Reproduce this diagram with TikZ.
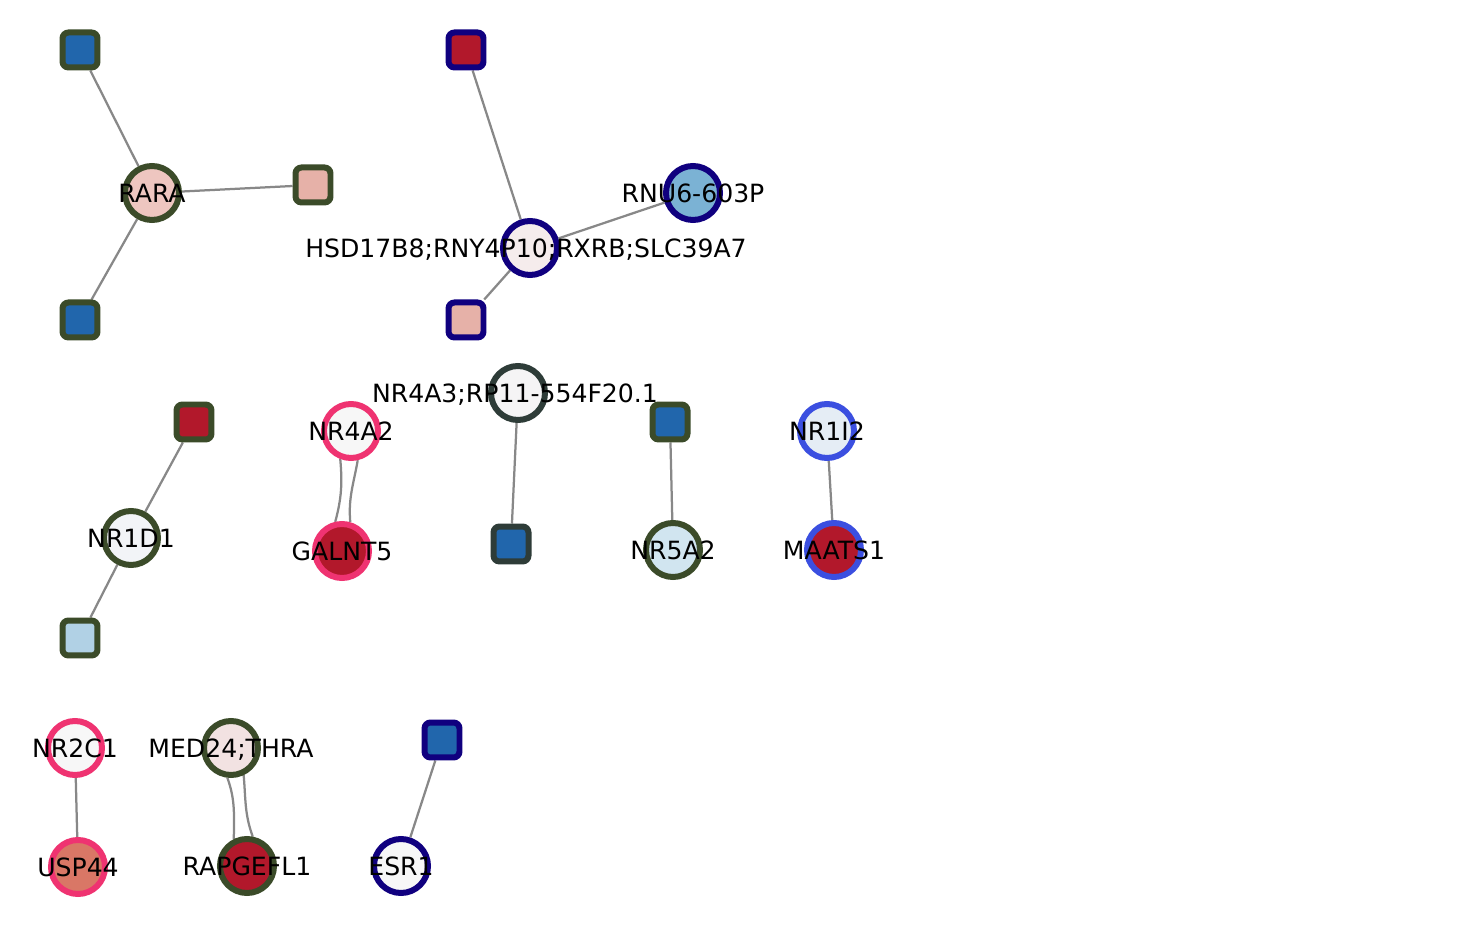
\documentclass[tikz,border=0pt]{standalone}
\usepackage{fontspec}
\setmainfont{DejaVu Sans}
\usepackage{tikz}
\usetikzlibrary{backgrounds}
\definecolor{ringgreen}{HTML}{3B4B29}
\definecolor{ringnavy}{HTML}{10007F}
\definecolor{ringpink}{HTML}{EF3371}
\definecolor{ringblue}{HTML}{3B4FE0}
\definecolor{ringslate}{HTML}{2E3C38}
\definecolor{hiblue}{HTML}{2166AC}
\definecolor{hired}{HTML}{B2182B}
\definecolor{lopink}{HTML}{E6B1A8}
\definecolor{lightblue}{HTML}{B1D1E5}
\definecolor{linkgray}{HTML}{888888}
\tikzset {
  % circled gene vertex
  gene/.style = {draw, circle, minimum size=1.08cm, line width=0.12cm, inner sep=0pt},
  % square probe vertex
  probe/.style = {draw, rectangle, rounded corners=0.12cm, minimum size=0.7cm, line width=0.12cm, inner sep=0pt},
  % ring colours
  greenring/.style={draw=ringgreen},
  navyring/.style={draw=ringnavy},
  pinkring/.style={draw=ringpink},
  bluering/.style={draw=ringblue},
  slatering/.style={draw=ringslate},
  % edges between vertices
  link/.style={draw=linkgray, line width=0.045cm},
  every label/.style={text depth=0pt},
}

\begin{document}
\begin{tikzpicture}[x=0.02cm, y=-0.02cm, font=\fontsize{14.3}{17}\selectfont]
        \useasboundingbox (0,0) rectangle (1475,945);

        % RARA group
        \node[probe, greenring, fill=hiblue] (pa) at (80,50) {};
        \node[gene, greenring, fill={rgb,255:red,238;green,198;blue,192}, label={center:RARA}] (rara) at (152,193) {};
        \node[probe, greenring, fill=lopink] (pb) at (313,185) {};
        \node[probe, greenring, fill=hiblue] (pc) at (80,320) {};

        % HSD17B8 group
        \node[probe, navyring, fill=hired] (pd) at (466,50) {};
        \node[gene, navyring, fill={rgb,255:red,123;green,178;blue,212}, label={center:RNU6-603P}] (rnu) at (693,193) {};
        \node[gene, navyring, fill={rgb,255:red,245;green,236;blue,236}, label={[xshift=-0.08cm]center:HSD17B8;RNY4P10;RXRB;SLC39A7}] (hsd) at (530,248) {};
        \node[probe, navyring, fill=lopink] (pe) at (466,320) {};

        % NR4A3
        \node[gene, slatering, fill={rgb,255:red,245;green,244;blue,245}, label={[xshift=-0.06cm]center:NR4A3;RP11-554F20.1}] (nrfa) at (518,393) {};
        \node[probe, slatering, fill=hiblue] (pf) at (511,544) {};

        % NR4A2
        \node[gene, pinkring, fill={rgb,255:red,247;green,247;blue,247}, label={center:NR4A2}] (nrfb) at (351,431) {};
        \node[gene, pinkring, fill=hired, label={center:GALNT5}] (galnt) at (342,551) {};

        % NR1D1
        \node[probe, greenring, fill=hired] (pg) at (194,422) {};
        \node[gene, greenring, fill={rgb,255:red,242;green,244;blue,247}, label={center:NR1D1}] (nrod) at (131,538) {};
        \node[probe, greenring, fill=lightblue] (ph) at (80,638) {};

        % NR5A2
        \node[probe, greenring, fill=hiblue] (pi) at (670,422) {};
        \node[gene, greenring, fill={rgb,255:red,209;green,229;blue,240}, label={center:NR5A2}] (nrfive) at (673,550) {};

        % NR1I2
        \node[gene, bluering, fill={rgb,255:red,229;green,237;blue,245}, label={center:NR1I2}] (nroi) at (827,431) {};
        \node[gene, bluering, fill=hired, label={center:MAATS1}] (maats) at (834,550) {};

        % bottom row
        \node[gene, pinkring, fill={rgb,255:red,247;green,247;blue,247}, label={center:NR2C1}] (nrtc) at (75,748) {};
        \node[gene, pinkring, fill={rgb,255:red,217;green,119;blue,102}, label={center:USP44}] (usp) at (78,867) {};
        \node[gene, greenring, fill={rgb,255:red,242;green,226;blue,226}, label={center:MED24;THRA}] (med) at (231,748) {};
        \node[gene, greenring, fill=hired, label={center:RAPGEFL1}] (rap) at (247,866) {};
        \node[probe, navyring, fill=hiblue] (pj) at (442,740) {};
        \node[gene, navyring, fill={rgb,255:red,247;green,247;blue,247}, label={center:ESR1}] (esr) at (401,866) {};

        \begin{scope}[on background layer]
        \draw [link] (pa) -- (rara);
        \draw [link] (rara) -- (pb);
        \draw [link] (rara) -- (pc);

        \draw [link] (pd) -- (hsd);
        \draw [link] (hsd) -- (rnu);
        \draw [link] (hsd) -- (pe);

        \draw [link] (nrfa) -- (pf);

        \draw [link] (nrfb.-111) to[out=-85, in=75] (galnt.103);
        \draw [link] (nrfb.-77) to[out=-100, in=95] (galnt.74);

        \draw [link] (pg) -- (nrod);
        \draw [link] (nrod) -- (ph);

        \draw [link] (pi) -- (nrfive);
        \draw [link] (nroi) -- (maats);

        \draw [link] (nrtc) -- (usp);
        \draw [link] (med.-97) to[out=-70, in=90] (rap.116);
        \draw [link] (med.-65) to[out=-85, in=110] (rap.79);
        \draw [link] (pj) -- (esr);
        \end{scope}
      \end{tikzpicture}
\end{document}
